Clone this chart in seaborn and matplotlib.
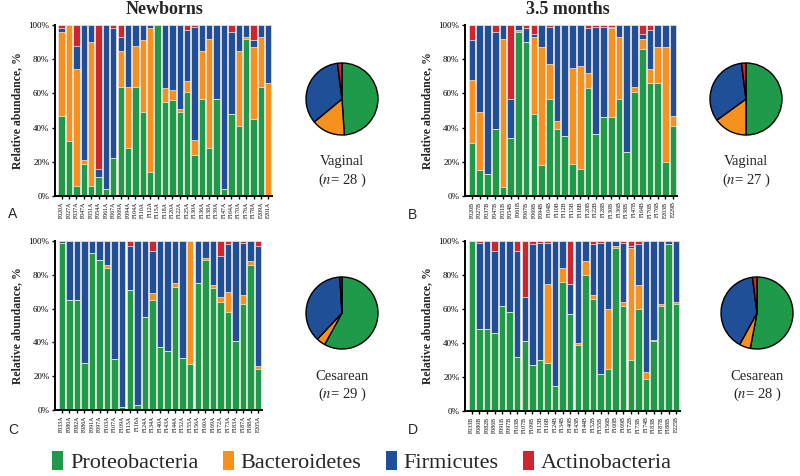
import numpy as np
import pandas as pd
import matplotlib
matplotlib.use("Agg")
import matplotlib.pyplot as plt
from matplotlib.patches import Patch
import seaborn as sns

phyla = ["Proteobacteria", "Bacteroidetes", "Firmicutes", "Actinobacteria"]
colors = ["#1e9a4a", "#f6901e", "#1f4f97", "#cf2530"]

# Panel A: Newborns, vaginal
a_labels = ["F020A", "F027A", "F037A", "F047A", "F051A", "F054A", "F061A", "F067A", "F069A", "F094A",
            "F104A", "F110A", "F112A", "F115A", "F118A", "F120A", "F122A", "F125A", "F130A", "F136A",
            "F138A", "F139A", "F147A", "F164A", "F170A", "F176A", "F178A", "F209A", "F201A"]
a_prot = [47, 32, 6, 19, 6, 11, 4, 22, 64, 28, 64, 49, 14, 100, 55, 56, 49, 61, 24, 57, 28, 57, 4, 48, 41, 92, 45, 64, 0]
a_bact = [49, 68, 68, 2, 84, 0, 0, 0, 21, 36, 24, 42, 84, 0, 8, 6, 2, 6, 9, 28, 64, 0, 0, 0, 44, 1, 42, 29, 66]
a_firm = [2, 0, 14, 79, 10, 5, 96, 76, 8, 36, 12, 9, 2, 0, 37, 38, 49, 30, 66, 15, 8, 43, 96, 48, 15, 7, 4, 7, 34]

# Panel B: 3.5 months, vaginal
b_labels = ["F020B", "F027B", "F037B", "F047B", "F051B", "F054B", "F061B", "F067B", "F069B", "F094B",
            "F104B", "F110B", "F112B", "F115B", "F118B", "F120B", "F122B", "F128B", "F130B", "F136B",
            "F138B", "F147B", "F164B", "F170B", "F176B", "F203B", "F229B"]
b_prot = [31, 15, 13, 39, 5, 34, 96, 90, 48, 18, 57, 39, 35, 19, 16, 63, 36, 46, 46, 57, 26, 61, 86, 66, 66, 20, 41]
b_bact = [37, 34, 0, 0, 87, 0, 1, 0, 45, 69, 20, 5, 0, 56, 60, 9, 0, 0, 52, 36, 0, 3, 6, 8, 21, 67, 6]
b_firm = [23, 51, 87, 57, 8, 23, 3, 8, 2, 13, 22, 56, 65, 25, 24, 26, 63, 53, 1, 7, 74, 36, 3, 23, 13, 13, 53]

# Panel C: Newborns, cesarean
c_labels = ["F033A", "F080A", "F082A", "F086A", "F091A", "F097A", "F103A", "F107A", "F109A", "F113A",
            "F116A", "F124A", "F134A", "F140A", "F143A", "F144A", "F152A", "F155A", "F156A", "F160A",
            "F169A", "F172A", "F173A", "F183A", "F187A", "F188A", "F205A"]
c_prot = [99, 65, 65, 28, 93, 89, 84, 30, 2, 71, 3, 55, 65, 37, 35, 73, 31, 27, 75, 89, 72, 64, 58, 41, 63, 86, 24]
c_bact = [0, 0, 0, 0, 0, 0, 2, 0, 0, 0, 0, 0, 4, 0, 0, 2, 0, 73, 0, 1, 2, 3, 12, 0, 5, 2, 2]
c_firm = [1, 35, 35, 72, 7, 11, 14, 70, 98, 26, 97, 45, 25, 63, 65, 25, 69, 0, 25, 10, 26, 24, 28, 59, 31, 12, 71]

# Panel D: 3.5 months, cesarean
d_labels = ["F033B", "F080B", "F082B", "F086B", "F091B", "F097B", "F103B", "F107B", "F109B", "F113B",
            "F116B", "F124B", "F134B", "F140B", "F143B", "F144B", "F152B", "F155B", "F156B", "F160B",
            "F169B", "F172B", "F173B", "F174B", "F183B", "F187B", "F188B", "F225B"]
d_prot = [100, 48, 48, 46, 62, 58, 32, 41, 27, 30, 28, 15, 76, 57, 39, 80, 66, 22, 25, 96, 62, 30, 60, 19, 41, 62, 98, 63]
d_bact = [0, 0, 0, 0, 0, 0, 0, 0, 0, 0, 47, 0, 8, 0, 1, 8, 2, 0, 35, 1, 2, 66, 14, 4, 1, 1, 0, 1]
d_firm = [0, 51, 52, 48, 38, 42, 62, 26, 71, 69, 24, 85, 16, 18, 60, 12, 30, 77, 40, 3, 35, 1, 24, 77, 58, 37, 2, 36]

# Pie summaries
pie_a = [49, 15, 34, 2]
pie_b = [50, 15, 33, 2]
pie_c = [58, 4, 37, 1]
pie_d = [53, 5, 40, 2]

pie_titles = [("Vaginal", "28"), ("Vaginal", "27"), ("Cesarean", "29"), ("Cesarean", "28")]

sns.set_theme(style="white")
plt.rcParams["font.family"] = ["DejaVu Serif"]
plt.rcParams["mathtext.fontset"] = "stix"
serif = "Liberation Serif"

W, H = 800, 476
fig = plt.figure(figsize=(W / 100, H / 100), dpi=100)


def ax_px(x0, y_top, x1, y_bot):
    return fig.add_axes([x0 / W, 1 - y_bot / H, (x1 - x0) / W, (y_bot - y_top) / H])


def stacked(ax, labels, prot, bact, firm):
    df = pd.DataFrame({"sample": labels, "P": prot, "B": bact, "F": firm})
    df["c1"] = df["P"]
    df["c2"] = df["P"] + df["B"]
    df["c3"] = df["c2"] + df["F"]
    df["c4"] = 100
    for col, colr in zip(["c4", "c3", "c2", "c1"], colors[::-1]):
        sns.barplot(data=df, x="sample", y=col, color=colr, order=labels, ax=ax,
                    width=0.86, edgecolor="#f4eee8", linewidth=0.5, saturation=1)
    ax.set_ylim(0, 100)
    ax.set_xlim(-0.9, len(labels) - 0.5)
    ax.set_yticks([0, 20, 40, 60, 80, 100])
    ax.set_yticklabels([f"{v}%" for v in [0, 20, 40, 60, 80, 100]], fontsize=6.5, family=serif)
    ax.set_xticks(range(len(labels)))
    ax.set_xticklabels(labels, rotation=90, fontsize=4.2, family=serif)
    ax.set_xlabel("")
    ax.set_ylabel("Relative abundance, %", fontsize=8.5, family=serif, fontweight="bold", labelpad=4)
    for s in ["top", "right"]:
        ax.spines[s].set_visible(False)
    for s in ["left", "bottom"]:
        ax.spines[s].set_linewidth(1.4)
        ax.spines[s].set_color("black")
    ax.tick_params(axis="both", direction="out", length=2.5, width=1, pad=1.5, colors="black",
                   left=True, bottom=True)


axA = ax_px(55, 25, 272, 196)
stacked(axA, a_labels, a_prot, a_bact, a_firm)
axB = ax_px(465, 25, 677, 196)
stacked(axB, b_labels, b_prot, b_bact, b_firm)
axC = ax_px(55, 241, 262, 410)
stacked(axC, c_labels, c_prot, c_bact, c_firm)
axD = ax_px(465, 241, 680, 411)
stacked(axD, d_labels, d_prot, d_bact, d_firm)

# Pies
pie_centers = [(342, 99), (746, 99), (342, 313), (757, 313)]
for (cx, cy), vals, (grp, n) in zip(pie_centers, [pie_a, pie_b, pie_c, pie_d], pie_titles):
    r = 44
    pax = ax_px(cx - r - 1, cy - r - 1, cx + r + 1, cy + r + 1)
    pax.pie(vals, colors=colors, startangle=90, counterclock=False,
            wedgeprops=dict(edgecolor="black", linewidth=1.0))
    pax.set_aspect("equal")
    fig.text(cx / W, 1 - (cy + 63) / H, grp, ha="center", va="center", fontsize=10.5, family=serif)
    fig.text(cx / W, 1 - (cy + 81) / H, f"($n$= {n} )", ha="center", va="center", fontsize=10.5, family=serif)

# Titles
fig.text(165 / W, 1 - 9 / H, "Newborns", ha="center", va="center", fontsize=13, fontweight="bold", family=serif)
fig.text(568 / W, 1 - 9 / H, "3.5 months", ha="center", va="center", fontsize=13, fontweight="bold", family=serif)

# Panel letters
for lab, x, y in [("A", 8, 214), ("B", 408, 215), ("C", 8, 430), ("D", 408, 430)]:
    fig.text(x / W, 1 - y / H, lab, ha="left", va="center", fontsize=10, family="Liberation Sans")

# Legend
handles = [Patch(facecolor=c, edgecolor="none") for c in colors]
fig.legend(handles, phyla, loc="center", bbox_to_anchor=(362 / W, 1 - 462 / H), ncol=4, frameon=False,
           prop={"family": serif, "size": 16}, handlelength=0.5, handleheight=0.9, handletextpad=0.3,
           columnspacing=1.1, borderaxespad=0)

fig.savefig("out.png", dpi=100)
